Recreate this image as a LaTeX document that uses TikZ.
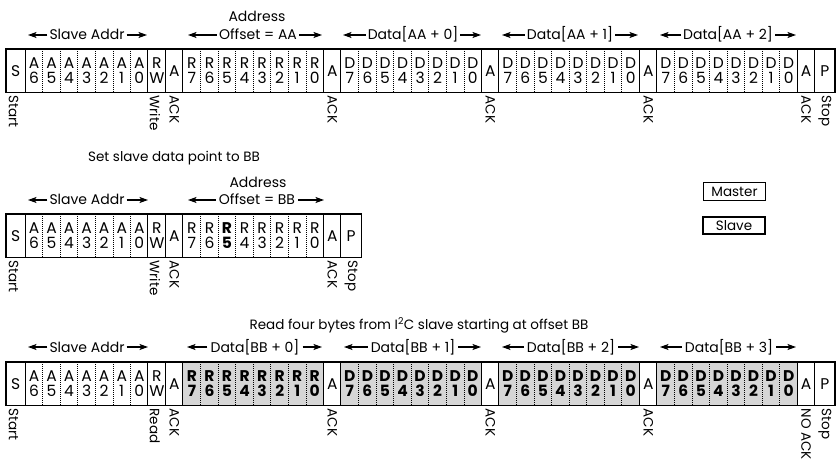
\documentclass[tikz,border=0pt]{standalone}
\usepackage{fontspec}
\setmainfont{Poppins}
\usetikzlibrary{arrows.meta}
\definecolor{slavefill}{gray}{0.84}
\tikzset{
  cell/.style={inner sep=0pt, minimum height=43pt, anchor=north west, align=center,
    font=\fontsize{15.5}{14.5}\selectfont},
  cellw/.style={},
  cellb/.style={font=\fontsize{15.5}{14.5}\selectfont\bfseries},
  cellg/.style={fill=slavefill, font=\fontsize{15.5}{14.5}\selectfont\bfseries},
  seps/.style={line width=1pt},
  sepd/.style={line width=0.45pt, dash pattern=on 1pt off 1pt},
  frame/.style={line width=1.4pt},
  lbl/.style={font=\fontsize{14}{16}\selectfont, inner sep=0pt, text height=10pt, text depth=0pt},
  ttl/.style={font=\fontsize{13.5}{16}\selectfont, inner sep=0pt},
  vlbl/.style={font=\fontsize{13.5}{16}\selectfont, rotate=-90, anchor=west, inner sep=0pt},
  arr/.style={-{Stealth[length=8.5pt,width=6pt,inset=2pt]}, line width=1.1pt, shorten <=2pt},
  legendbox/.style={draw, line width=1.1pt, minimum width=62pt, minimum height=18pt, inner sep=0pt,
    font=\fontsize{13.5}{15}\selectfont},
}
\def\addr{S//s/w,A/6/s/w,A/5/d/w,A/4/d/w,A/3/d/w,A/2/d/w,A/1/d/w,A/0/d/w,R/W/s/w,A//s/w}
\def\rbyte{R/7/s/w,R/6/d/w,R/5/d/w,R/4/d/w,R/3/d/w,R/2/d/w,R/1/d/w,R/0/d/w}
\def\rbytem{R/7/s/w,R/6/d/w,R/5/d/b,R/4/d/w,R/3/d/w,R/2/d/w,R/1/d/w,R/0/d/w}
\def\rbyteg{R/7/s/g,R/6/d/g,R/5/d/g,R/4/d/g,R/3/d/g,R/2/d/g,R/1/d/g,R/0/d/g}
\def\dbyte{D/7/s/w,D/6/d/w,D/5/d/w,D/4/d/w,D/3/d/w,D/2/d/w,D/1/d/w,D/0/d/w}
\def\dbyteg{D/7/s/g,D/6/d/g,D/5/d/g,D/4/d/g,D/3/d/g,D/2/d/g,D/1/d/g,D/0/d/g}
\def\ackc{A//s/w}
\def\stpc{P//s/w}
\edef\toprow{\addr,\rbyte,\ackc,\dbyte,\ackc,\dbyte,\ackc,\dbyte,\ackc,\stpc}
\edef\midrow{\addr,\rbytem,\ackc,\stpc}
\edef\botrow{\addr,\rbyteg,\ackc,\dbyteg,\ackc,\dbyteg,\ackc,\dbyteg,\ackc,\stpc}
\def\PPletter{P}
\def\SSletter{S}
\newcommand\bitrow[4]{%
  \foreach \ta/\tb/\ts/\tf [count=\i from 0] in #3 {
    \pgfmathsetmacro\xl{\i==0 ? 6 : 25+(\i-1)*17.55}
    \ifx\ta\SSletter \def\cw{19}\else\ifx\ta\PPletter \def\cw{20}\else\def\cw{17.55}\fi\fi
    \ifx\tb\empty \edef\ct{\ta}\else \edef\ct{\ta\noexpand\\\tb}\fi
    \node[cell, cell\tf, minimum width=\cw pt] (#1\i) at (\xl,#2) {\ct};
  }
  \foreach \ta/\tb/\ts/\tf [count=\i from 0] in #3 {
    \ifnum\i>0 \draw[sep\ts] (#1\i.north west) -- (#1\i.south west);\fi
  }
  \draw[frame] (#10.north west) rectangle (#1#4.south east);
}
\begin{document}
\begin{tikzpicture}[x=1pt,y=-1pt]
\useasboundingbox (0,0) rectangle (840,470);
% ---------- top row ----------
\bitrow{t}{49}{\toprow}{46}
\node[lbl] (taddress) at (257,17) {Address};
\node[lbl] (tsa) at (87,35) {Slave Addr};
\coordinate (tsal) at (28,35); \coordinate (tsar) at (147,35);
\draw[arr] (tsa.west) -- (tsal); \draw[arr] (tsa.east) -- (tsar);
\node[lbl] (toff) at (258,35) {Offset = AA};
\coordinate (toffl) at (188,35); \coordinate (toffr) at (322,35);
\draw[arr] (toff.west) -- (toffl); \draw[arr] (toff.east) -- (toffr);
\node[lbl] (td0) at (413,35) {Data[AA + 0]};
\coordinate (td0l) at (343,35); \coordinate (td0r) at (481,35);
\draw[arr] (td0.west) -- (td0l); \draw[arr] (td0.east) -- (td0r);
\node[lbl] (td1) at (570,35) {Data[AA + 1]};
\coordinate (td1l) at (502,35); \coordinate (td1r) at (638,35);
\draw[arr] (td1.west) -- (td1l); \draw[arr] (td1.east) -- (td1r);
\node[lbl] (td2) at (728,35) {Data[AA + 2]};
\coordinate (td2l) at (660,35); \coordinate (td2r) at (796,35);
\draw[arr] (td2.west) -- (td2l); \draw[arr] (td2.east) -- (td2r);
\node[vlbl] (tstart) at ([yshift=-3pt,xshift=-2pt]t0.south) {Start};
\node[vlbl] (twrite) at ([yshift=-3pt,xshift=-2pt]t8.south) {Write};
\node[vlbl] (tack1) at ([yshift=-3pt]t9.south) {ACK};
\node[vlbl] (tack2) at ([yshift=-3pt]t18.south) {ACK};
\node[vlbl] (tack3) at ([yshift=-3pt]t27.south) {ACK};
\node[vlbl] (tack4) at ([yshift=-3pt]t36.south) {ACK};
\node[vlbl] (tack5) at ([yshift=-3pt]t45.south) {ACK};
\node[vlbl] (tstop) at ([yshift=-3pt]t46.south) {Stop};
% ---------- middle row ----------
\node[ttl] (mtitle) at (174,158) {Set slave data point to BB};
\bitrow{m}{214}{\midrow}{19}
\node[lbl] (maddress) at (258,183) {Address};
\node[lbl] (msa) at (87,200) {Slave Addr};
\coordinate (msal) at (28,200); \coordinate (msar) at (148,200);
\draw[arr] (msa.west) -- (msal); \draw[arr] (msa.east) -- (msar);
\node[lbl] (moff) at (257,200) {Offset = BB};
\coordinate (moffl) at (188,200); \coordinate (moffr) at (324,200);
\draw[arr,shorten <=3pt] (moff.west) -- (moffl); \draw[arr,shorten <=3pt] (moff.east) -- (moffr);
\node[vlbl] (mstart) at ([yshift=-3pt,xshift=-2pt]m0.south) {Start};
\node[vlbl] (mwrite) at ([yshift=-3pt,xshift=-2pt]m8.south) {Write};
\node[vlbl] (mack1) at ([yshift=-3pt]m9.south) {ACK};
\node[vlbl] (mack2) at ([yshift=-3pt]m18.south) {ACK};
\node[vlbl] (mstop) at ([yshift=-3pt]m19.south) {Stop};
% ---------- legend ----------
\node[legendbox] (master) at (734.5,191.5) {Master};
\node[legendbox, minimum height=17pt] (slave) at (734,225.5) {Slave};
% ---------- bottom row ----------
\node[ttl] (btitle) at (419,325) {Read four bytes from I\textsuperscript{2}C slave starting at offset BB};
\bitrow{b}{362}{\botrow}{46}
\node[lbl] (bsa) at (87,347) {Slave Addr};
\coordinate (bsal) at (28,347); \coordinate (bsar) at (148,347);
\draw[arr] (bsa.west) -- (bsal); \draw[arr] (bsa.east) -- (bsar);
\node[lbl] (bd0) at (255,347) {Data[BB + 0]};
\coordinate (bd0l) at (187,347); \coordinate (bd0r) at (322,347);
\draw[arr,shorten <=3pt] (bd0.west) -- (bd0l); \draw[arr,shorten <=3pt] (bd0.east) -- (bd0r);
\node[lbl] (bd1) at (413,347) {Data[BB + 1]};
\coordinate (bd1l) at (344,347); \coordinate (bd1r) at (481,347);
\draw[arr,shorten <=3pt] (bd1.west) -- (bd1l); \draw[arr,shorten <=3pt] (bd1.east) -- (bd1r);
\node[lbl] (bd2) at (571,347) {Data[BB + 2]};
\coordinate (bd2l) at (502,347); \coordinate (bd2r) at (639,347);
\draw[arr,shorten <=3pt] (bd2.west) -- (bd2l); \draw[arr,shorten <=3pt] (bd2.east) -- (bd2r);
\node[lbl] (bd3) at (729,347) {Data[BB + 3]};
\coordinate (bd3l) at (660,347); \coordinate (bd3r) at (796,347);
\draw[arr,shorten <=3pt] (bd3.west) -- (bd3l); \draw[arr,shorten <=3pt] (bd3.east) -- (bd3r);
\node[vlbl] (bstart) at ([yshift=-3pt,xshift=-2pt]b0.south) {Start};
\node[vlbl] (bread) at ([yshift=-3pt,xshift=-2pt]b8.south) {Read};
\node[vlbl] (back1) at ([yshift=-3pt]b9.south) {ACK};
\node[vlbl] (back2) at ([yshift=-3pt]b18.south) {ACK};
\node[vlbl] (back3) at ([yshift=-3pt]b27.south) {ACK};
\node[vlbl] (back4) at ([yshift=-3pt]b36.south) {ACK};
\node[vlbl] (bnoack) at ([yshift=-3pt]b45.south) {NO ACK};
\node[vlbl] (bstop) at ([yshift=-3pt]b46.south) {Stop};
\end{tikzpicture}
\end{document}
